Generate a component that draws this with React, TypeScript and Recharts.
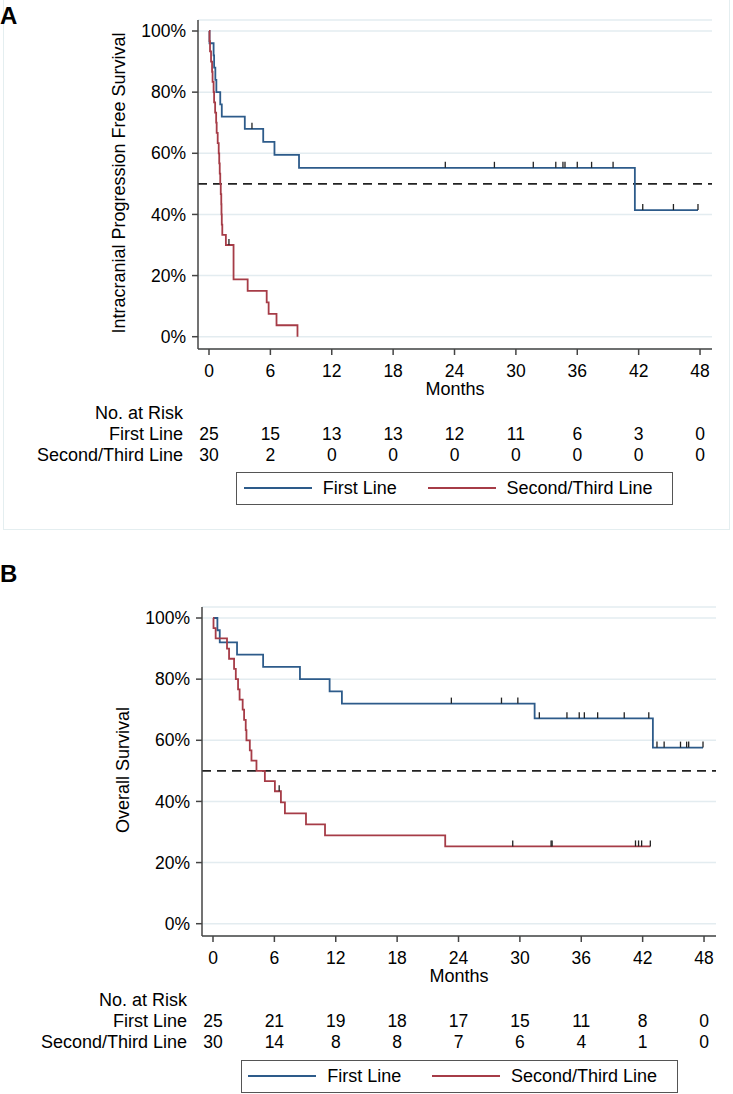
import React from 'react';
import { ComposedChart, Line, Scatter, XAxis, YAxis, CartesianGrid, ReferenceLine } from 'recharts';

// ---------- shared ----------
const monthTicks = [0, 6, 12, 18, 24, 30, 36, 42, 48];
const percentTicks = [0, 20, 40, 60, 80, 100];
const seriesNames = ['First Line', 'Second/Third Line'];
const seriesColors = ['#2d5b8a', '#a63c47'];

// ---------- Panel A: Intracranial PFS ----------
const pfsFirstTimes = [0, 0.05, 0.45, 0.5, 0.62, 0.72, 1.1, 1.25, 3.5, 5.3, 6.4, 8.8, 41.63, 47.8];
const pfsFirstSurv = [100, 96, 92, 88, 84, 80, 76, 72, 68, 63.75, 59.5, 55.25, 41.44, 41.44];
const pfsFirstCensor = [4.2, 23.1, 27.9, 31.7, 33.9, 34.6, 34.8, 36.0, 37.4, 39.5, 42.4, 45.4, 47.8];

const pfsSecondTimes = [0, 0.05, 0.1, 0.2, 0.3, 0.35, 0.45, 0.5, 0.6, 0.7, 0.75, 0.85, 0.95, 1.0, 1.05, 1.1, 1.15, 1.2, 1.22, 1.25, 1.3, 1.65, 2.4, 3.78, 5.64, 5.83, 6.6, 8.65];
const pfsSecondSurv = [100, 96.67, 93.33, 90, 86.67, 83.33, 80, 76.67, 73.33, 70, 66.67, 63.33, 60, 56.67, 53.33, 50, 46.67, 43.33, 40, 36.67, 33.33, 30, 18.75, 15, 11.25, 7.5, 3.75, 0];
const pfsSecondCensor = [1.95];

const pfsRiskFirst = [25, 15, 13, 13, 12, 11, 6, 3, 0];
const pfsRiskSecond = [30, 2, 0, 0, 0, 0, 0, 0, 0];

// ---------- Panel B: Overall survival ----------
const osFirstTimes = [0, 0.43, 0.66, 2.35, 4.9, 8.5, 11.4, 12.6, 31.44, 43.0, 47.9];
const osFirstSurv = [100, 96, 92, 88, 84, 80, 76, 72, 67.2, 57.6, 57.6];
const osFirstCensor = [23.3, 28.2, 29.8, 31.9, 34.6, 35.8, 36.3, 37.6, 40.2, 42.6, 43.4, 44.1, 45.7, 46.3, 46.5, 47.9];

const osSecondTimes = [0, 0.05, 0.26, 1.37, 1.57, 2.06, 2.23, 2.45, 2.6, 2.9, 3.04, 3.2, 3.27, 3.6, 3.76, 4.25, 5.07, 6.05, 6.64, 7.03, 9.09, 10.95, 22.7, 42.75];
const osSecondSurv = [100, 96.67, 93.33, 90, 86.67, 83.33, 80, 76.67, 73.33, 70, 66.67, 63.33, 60, 56.67, 53.33, 50, 46.67, 43.33, 39.72, 36.11, 32.5, 28.89, 25.28, 25.28];
const osSecondCensor = [6.47, 29.3, 33.05, 33.15, 41.3, 41.6, 41.9, 42.75];

const osRiskFirst = [25, 21, 19, 18, 17, 15, 11, 8, 0];
const osRiskSecond = [30, 14, 8, 8, 7, 6, 4, 1, 0];

// ---------- helpers ----------
const X_DOMAIN: [number, number] = [-1.075, 49.17];
const Y_DOMAIN: [number, number] = [-4.02, 103.6];
const AXIS = '#444';
const FONT = "'Liberation Sans', Arial, Helvetica, sans-serif";

const levelAt = (times: number[], surv: number[], t: number) => {
  let v = surv[0];
  for (let i = 0; i < times.length; i++) if (times[i] <= t) v = surv[i];
  return v;
};
const toSteps = (times: number[], surv: number[]) => times.map((t, i) => ({ t, s: surv[i] }));
const toCensor = (cens: number[], times: number[], surv: number[]) =>
  cens.map((t) => ({ t, s: levelAt(times, surv, t) }));

const CensorMark = (props: any) => {
  const { cx, cy } = props;
  if (cx == null || cy == null) return <g />;
  return <line x1={cx} y1={cy} x2={cx} y2={cy - 6} stroke="#222" strokeWidth={1.3} />;
};

type PanelProps = {
  top: number;
  left: number;
  yTitle: string;
  firstTimes: number[];
  firstSurv: number[];
  firstCensor: number[];
  secondTimes: number[];
  secondSurv: number[];
  secondCensor: number[];
  riskFirst: number[];
  riskSecond: number[];
};

const Panel = (p: PanelProps) => {
  const firstData = toSteps(p.firstTimes, p.firstSurv);
  const secondData = toSteps(p.secondTimes, p.secondSurv);
  const firstCens = toCensor(p.firstCensor, p.firstTimes, p.firstSurv);
  const secondCens = toCensor(p.secondCensor, p.secondTimes, p.secondSurv);

  const monthsLabel = (lp: any) => {
    const vb = lp.viewBox ?? { x: 198, y: 349, width: 514, height: 48 };
    return (
      <text x={vb.x + vb.width / 2} y={vb.y + 40} textAnchor="middle" dominantBaseline="central" fontSize={18} fill="#000">
        Months
      </text>
    );
  };
  const risk1Label = (lp: any) => {
    const vb = lp.viewBox ?? { x: 198, y: 397, width: 514, height: 48 };
    return (
      <g>
        <text x={vb.x - 15} y={vb.y + 15.7} textAnchor="end" dominantBaseline="central" fontSize={18} fill="#000">
          No. at Risk
        </text>
        <text x={vb.x - 15} y={vb.y + 37} textAnchor="end" dominantBaseline="central" fontSize={18} fill="#000">
          {seriesNames[0]}
        </text>
      </g>
    );
  };
  const risk2Label = (lp: any) => {
    const vb = lp.viewBox ?? { x: 198, y: 445, width: 514, height: 20 };
    return (
      <text x={vb.x - 15} y={vb.y + 10} textAnchor="end" dominantBaseline="central" fontSize={18} fill="#000">
        {seriesNames[1]}
      </text>
    );
  };
  const yTitleLabel = (lp: any) => {
    const vb = lp.viewBox ?? { x: 0, y: 20, width: 198, height: 329 };
    const x = vb.x + 119;
    const y = vb.y + vb.height / 2 - 1.5;
    return (
      <text x={x} y={y} textAnchor="middle" dominantBaseline="central" fontSize={18} fill="#000" transform={`rotate(-90, ${x}, ${y})`}>
        {p.yTitle}
      </text>
    );
  };

  return (
    <div style={{ position: 'absolute', top: p.top, left: p.left, width: 733, height: 530 }}>
      <ComposedChart width={733} height={530} margin={{ top: 20, right: 21, left: 0, bottom: 65 }}>
        <CartesianGrid vertical={false} stroke="#e3ecf0" strokeWidth={1.5} />
        <XAxis
          xAxisId={0}
          type="number"
          dataKey="t"
          domain={X_DOMAIN}
          ticks={monthTicks}
          interval={0}
          allowDataOverflow
          height={48}
          tickSize={6}
          tickMargin={10}
          stroke={AXIS}
          axisLine={{ stroke: AXIS, strokeWidth: 1.5 }}
          tickLine={{ stroke: AXIS, strokeWidth: 1.5 }}
          tick={{ fontSize: 17.5, fill: '#000' }}
          label={monthsLabel}
        />
        <XAxis
          xAxisId="r1"
          type="number"
          dataKey="t"
          domain={X_DOMAIN}
          ticks={monthTicks}
          interval={0}
          allowDataOverflow
          height={48}
          tickSize={0}
          tickMargin={31}
          axisLine={false}
          tickLine={false}
          tick={{ fontSize: 17.5, fill: '#000' }}
          tickFormatter={(v: number) => String(p.riskFirst[monthTicks.indexOf(v)])}
          label={risk1Label}
        />
        <XAxis
          xAxisId="r2"
          type="number"
          dataKey="t"
          domain={X_DOMAIN}
          ticks={monthTicks}
          interval={0}
          allowDataOverflow
          height={20}
          tickSize={0}
          tickMargin={4}
          axisLine={false}
          tickLine={false}
          tick={{ fontSize: 17.5, fill: '#000' }}
          tickFormatter={(v: number) => String(p.riskSecond[monthTicks.indexOf(v)])}
          label={risk2Label}
        />
        <YAxis
          type="number"
          domain={Y_DOMAIN}
          ticks={percentTicks}
          interval={0}
          allowDataOverflow
          width={198}
          tickSize={6}
          tickMargin={6}
          stroke={AXIS}
          axisLine={{ stroke: AXIS, strokeWidth: 1.5 }}
          tickLine={{ stroke: AXIS, strokeWidth: 1.5 }}
          tick={{ fontSize: 17.5, fill: '#000' }}
          tickFormatter={(v: number) => `${v}%`}
          label={yTitleLabel}
        />
        <ReferenceLine y={50} stroke="#222" strokeDasharray="9 6" strokeWidth={1.6} />
        <Line
          data={firstData}
          dataKey="s"
          name={seriesNames[0]}
          type="stepAfter"
          stroke={seriesColors[0]}
          strokeWidth={1.8}
          dot={false}
          activeDot={false}
          isAnimationActive={false}
        />
        <Line
          data={secondData}
          dataKey="s"
          name={seriesNames[1]}
          type="stepAfter"
          stroke={seriesColors[1]}
          strokeWidth={1.8}
          dot={false}
          activeDot={false}
          isAnimationActive={false}
        />
        <Scatter data={firstCens} dataKey="s" shape={CensorMark} isAnimationActive={false} />
        <Scatter data={secondCens} dataKey="s" shape={CensorMark} isAnimationActive={false} />
      </ComposedChart>
    </div>
  );
};

const LegendBox = ({ left, top }: { left: number; top: number }) => (
  <div
    style={{
      position: 'absolute',
      left,
      top,
      width: 437,
      height: 33.5,
      border: '1.5px solid #555',
      boxSizing: 'border-box',
      display: 'flex',
      alignItems: 'center',
      fontSize: 18,
      background: '#fff',
    }}
  >
    {seriesNames.map((n, i) => (
      <div key={n} style={{ display: 'flex', alignItems: 'center', marginLeft: i === 0 ? 6.5 : 30.7 }}>
        <div style={{ width: 68, height: 0, borderTop: `2px solid ${seriesColors[i]}` }} />
        <span style={{ marginLeft: 11, lineHeight: '20px', whiteSpace: 'nowrap' }}>{n}</span>
      </div>
    ))}
  </div>
);

export default function App() {
  return (
    <div
      style={{
        position: 'absolute',
        left: 0,
        top: 0,
        width: 733,
        height: 1094,
        overflow: 'hidden',
        background: '#fff',
        fontFamily: FONT,
        color: '#000',
      }}
    >
      <div
        style={{
          position: 'absolute',
          left: 3,
          top: -2,
          width: 727,
          height: 532,
          border: '1px solid #e4eef0',
          boxSizing: 'border-box',
        }}
      />
      <Panel
        top={0}
        left={0}
        yTitle="Intracranial Progression Free Survival"
        firstTimes={pfsFirstTimes}
        firstSurv={pfsFirstSurv}
        firstCensor={pfsFirstCensor}
        secondTimes={pfsSecondTimes}
        secondSurv={pfsSecondSurv}
        secondCensor={pfsSecondCensor}
        riskFirst={pfsRiskFirst}
        riskSecond={pfsRiskSecond}
      />
      <LegendBox left={236.3} top={471.7} />
      <Panel
        top={587}
        left={3.7}
        yTitle="Overall Survival"
        firstTimes={osFirstTimes}
        firstSurv={osFirstSurv}
        firstCensor={osFirstCensor}
        secondTimes={osSecondTimes}
        secondSurv={osSecondSurv}
        secondCensor={osSecondCensor}
        riskFirst={osRiskFirst}
        riskSecond={osRiskSecond}
      />
      <LegendBox left={240.7} top={1059.5} />
      <svg style={{ position: 'absolute', left: 0, top: 0 }} width={733} height={1094} pointerEvents="none">
        <text x={0} y={24} fontSize={24} fontWeight="bold" fill="#000">A</text>
        <text x={0} y={581.7} fontSize={24} fontWeight="bold" fill="#000">B</text>
      </svg>
    </div>
  );
}
